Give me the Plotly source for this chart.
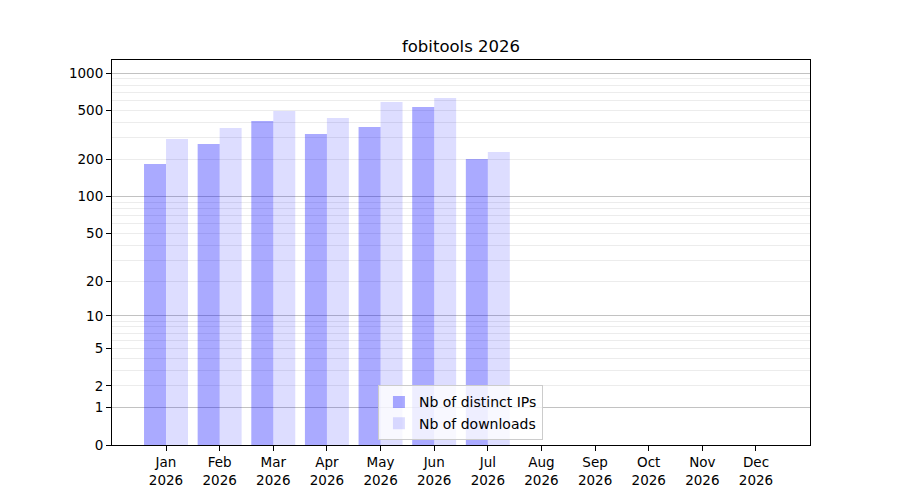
import numpy as np
import plotly.graph_objects as go

months = ['Jan', 'Feb', 'Mar', 'Apr', 'May', 'Jun', 'Jul', 'Aug', 'Sep', 'Oct', 'Nov', 'Dec']
year = 2026
distinct_ips = [184, 268, 411, 323, 368, 534, 202]
downloads = [294, 361, 496, 435, 586, 631, 231]

tick_values = [0, 1, 2, 5, 10, 20, 50, 100, 200, 500, 1000]
major_grid = [1, 10, 100, 1000]
minor_grid = [m * d for d in (1, 10, 100) for m in range(2, 10)]


def scale(v):
    # log10(1 + v) so that 0 stays on the axis
    return np.log10(1 + np.asarray(v, dtype=float))


pos = np.arange(len(months))
width = 0.41
font = dict(family='DejaVu Sans', size=13.5, color='black')

fig = go.Figure()
fig.add_trace(go.Bar(
    x=pos[:len(distinct_ips)], y=scale(distinct_ips),
    width=width, offset=-width,
    marker=dict(color='rgba(0,0,255,0.333)', line=dict(width=0)),
    name='Nb of distinct IPs',
))
fig.add_trace(go.Bar(
    x=pos[:len(downloads)], y=scale(downloads),
    width=width, offset=0,
    marker=dict(color='rgba(0,0,255,0.133)', line=dict(width=0)),
    name='Nb of downloads',
))
# empty trace so the second y axis (darker major grid) gets drawn
fig.add_trace(go.Scatter(x=[None], y=[None], yaxis='y2', showlegend=False,
                         hoverinfo='skip'))

yrange = [0, 3.107]
fig.update_layout(
    width=900, height=500,
    margin=dict(l=104, r=98, t=52, b=63),
    plot_bgcolor='white', paper_bgcolor='white',
    font=font,
    barmode='overlay',
    title=dict(text=f'fobitools {year}', x=0.5, xref='paper', xanchor='center',
               y=1 - 38 / 500, yanchor='middle', font=dict(size=16.5)),
    xaxis=dict(
        range=[-1.007, 12.007],
        tickvals=pos, ticktext=[f'{m}<br>{year}' for m in months],
        showgrid=False, zeroline=False,
        showline=True, linecolor='black', linewidth=1, mirror=True,
        ticks='outside', ticklen=5, tickcolor='black',
    ),
    yaxis=dict(
        range=yrange,
        tickvals=scale(tick_values), ticktext=[str(t) for t in tick_values],
        showgrid=False, zeroline=False,
        showline=True, linecolor='black', linewidth=1, mirror=True,
        ticks='outside', ticklen=5, tickcolor='black',
        minor=dict(tickvals=scale(minor_grid), showgrid=True,
                   gridcolor='#ececec', gridwidth=1, ticks=''),
    ),
    yaxis2=dict(
        range=yrange, overlaying='y', side='left',
        tickvals=scale(major_grid), showticklabels=False, ticks='',
        showgrid=True, gridcolor='rgba(120,120,120,0.45)', gridwidth=1,
        zeroline=False, showline=False,
    ),
    legend=dict(
        x=0.381, y=0.012, xanchor='left', yanchor='bottom',
        bgcolor='rgba(255,255,255,0.8)', bordercolor='#cccccc', borderwidth=1,
        font=dict(family='DejaVu Sans', size=14, color='black'),
        tracegroupgap=0,
    ),
    showlegend=True,
)

fig.write_html('out.html')
